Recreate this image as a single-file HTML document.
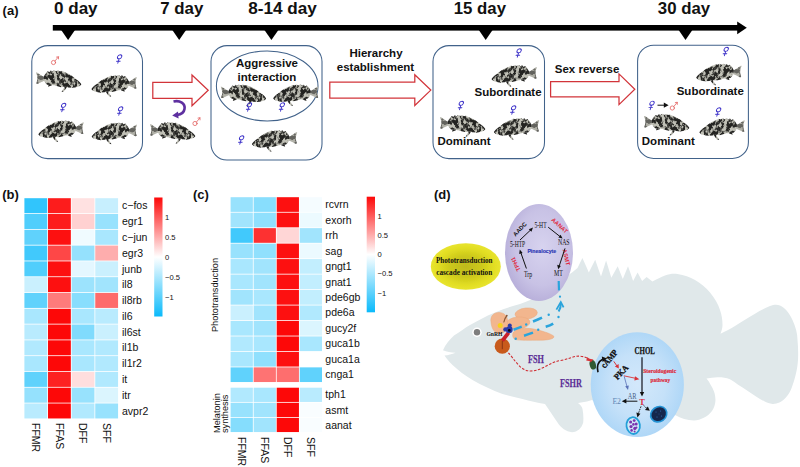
<!DOCTYPE html>
<html><head><meta charset="utf-8"><title>Figure</title>
<style>
html,body{margin:0;padding:0;background:#fff;}
body{width:800px;height:467px;overflow:hidden;font-family:"Liberation Sans",sans-serif;}
svg{display:block;}
text{font-family:"Liberation Sans",sans-serif;fill:#111;}
.b{font-weight:bold;}
.sf{font-family:"Liberation Serif",serif;}
</style></head><body>
<svg width="800" height="467" viewBox="0 0 800 467">
<defs>
<linearGradient id="lg" x1="0" y1="0" x2="0" y2="1">
  <stop offset="0" stop-color="#fd0808"/><stop offset="0.5" stop-color="#ffffff"/><stop offset="1" stop-color="#0abafb"/>
</linearGradient>
<radialGradient id="gy" cx="0.5" cy="0.5" r="0.5">
  <stop offset="0" stop-color="#bebA1a"/><stop offset="0.45" stop-color="#ccc81c"/><stop offset="0.8" stop-color="#e2de22"/><stop offset="1" stop-color="#e8e430"/>
</radialGradient>
<filter id="soft" x="-0.05" y="-0.05" width="1.1" height="1.1"><feGaussianBlur stdDeviation="0.7"/></filter>
<radialGradient id="gp" cx="0.55" cy="0.45" r="0.6">
  <stop offset="0" stop-color="#d7d3ef"/><stop offset="0.65" stop-color="#c8c2e5"/><stop offset="1" stop-color="#b5acd8"/>
</radialGradient>
<radialGradient id="gb" cx="0.5" cy="0.5" r="0.5">
  <stop offset="0" stop-color="#d3e8fb"/><stop offset="0.6" stop-color="#c5e1f9"/><stop offset="1" stop-color="#afd7f7"/>
</radialGradient>
<filter id="mott" x="-0.05" y="-0.05" width="1.1" height="1.1" color-interpolation-filters="sRGB">
  <feTurbulence type="fractalNoise" baseFrequency="0.27 0.22" numOctaves="3" seed="5" result="n"/>
  <feColorMatrix in="n" type="matrix" values="3.4 0 0 0 -1.26  3.4 0 0 0 -1.26  3.4 0 0 0 -1.26  0 0 0 0 1" result="g"/>
  <feComponentTransfer in="g" result="g2">
    <feFuncR type="table" tableValues="0.14 0.17 0.32 0.58 0.7 0.76"/>
    <feFuncG type="table" tableValues="0.14 0.17 0.32 0.58 0.7 0.76"/>
    <feFuncB type="table" tableValues="0.13 0.16 0.30 0.55 0.66 0.72"/>
  </feComponentTransfer>
  <feComposite in="g2" in2="SourceAlpha" operator="in" result="body"/>
  <feGaussianBlur in="body" stdDeviation="0.42"/>
</filter>
<g id="fish">
  <g filter="url(#mott)">
    <path d="M0,1.5 C0.6,1.3 1.2,1.5 1.8,2 C4,3.6 6,5.2 8.1,6.3 L8.4,10.1 C6,11 3.8,12.2 1.6,13.4 L0.3,13.1 C1.2,10.5 1.6,8.5 1.4,6.5 C1.2,4.8 0.7,3.1 0,1.5 Z"/>
    <path d="M7.7,6.2 C8.8,4.5 9.5,2.6 10.5,1.6 L12,0.2 L13.5,1 L15,-0.6 L16.8,0.4 L18.5,-0.9 L20.5,0.2 L22.5,-0.8 L24.5,0.3 L26.5,-0.3 L27.75,0.5 C31,1.6 33.5,2.9 36,4.6 C38.5,6.3 40.7,8 42.75,9.8 C44.2,11 45.4,12.2 46.1,13.5 L46.1,14.3 C45.2,15.3 44,16 42.75,16.5 C40.5,17.3 38.2,17.7 36,17.6 C34,17.5 32,17.1 30,16.5 L25.5,16.9 C23.2,16.4 21,15.7 18.75,15 C16.2,14.7 13.7,14.5 11.25,14.25 C10,13 9,11.6 8.05,10.1 Z"/>
    <path d="M29.4,16.2 L26,21.9 L28.3,21.5 L31.8,16.8 Z"/>
    <path d="M13,14 L12.2,16.6 L16.5,15 Z"/>
  </g>
  <path d="M0,1.5 C0.6,1.3 1.2,1.5 1.8,2 C4,3.6 6,5.2 8.1,6.3 L8.4,10.1 C6,11 3.8,12.2 1.6,13.4 L0.3,13.1 C1.2,10.5 1.6,8.5 1.4,6.5 C1.2,4.8 0.7,3.1 0,1.5 Z" fill="#a3a39b" opacity="0.5"/>
</g>
<g id="fem" transform="scale(1.1) skewX(-16)" fill="none" stroke="#3b30c8" stroke-width="0.85" stroke-linecap="round">
    <circle cx="0" cy="-2" r="1.9"/><path d="M0,-0.1 L0,3.9 M-1.7,2 L1.7,2"/>
</g>
<g id="mal" fill="none" stroke="#e25a58" stroke-width="0.75" stroke-linecap="round">
    <circle cx="-1.5" cy="2" r="2.1"/><path d="M0,0.5 L3.4,-3.6 M1.5,-3.4 L3.5,-3.8 L3.5,-1.6"/>
</g>
</defs>
<rect x="0" y="0" width="800" height="467" fill="#fff"/>
<g id="panel-a">
<text x="2.6" y="15" font-size="13" class="b">(a)</text>
<text x="54" y="14" font-size="16.2" class="b" textLength="43.6" lengthAdjust="spacingAndGlyphs">0 day</text>
<text x="160.2" y="14" font-size="16.2" class="b" textLength="43.1" lengthAdjust="spacingAndGlyphs">7 day</text>
<text x="248.2" y="14" font-size="16.2" class="b" textLength="68.6" lengthAdjust="spacingAndGlyphs">8-14 day</text>
<text x="453.7" y="14" font-size="16.2" class="b" textLength="52.3" lengthAdjust="spacingAndGlyphs">15 day</text>
<text x="657.8" y="14" font-size="16.2" class="b" textLength="52.3" lengthAdjust="spacingAndGlyphs">30 day</text>
<rect x="52.8" y="25" width="685.7" height="5.6" fill="#000"/>
<path d="M737.2,21.4 L746.8,27.8 L737.2,34.2 Z" fill="#000"/>
<g fill="#000">
<path d="M61.2,30 L75,30 L68.1,40 Z"/>
<path d="M172.3,30 L186.1,30 L179.2,40 Z"/>
<path d="M264.4,30 L278.4,30 L271.4,40 Z"/>
<path d="M478.8,30 L492.6,30 L485.7,40 Z"/>
<path d="M678.6,30 L692.4,30 L685.5,40 Z"/>
</g>
<g fill="none" stroke="#41628a" stroke-width="1.05">
<rect x="31.8" y="45.6" width="110.7" height="113" rx="16" ry="16"/>
<rect x="211" y="45.6" width="111" height="114.4" rx="16" ry="16"/>
<ellipse cx="267.2" cy="86" rx="50.8" ry="35"/>
<rect x="433" y="45.6" width="111.5" height="113" rx="16" ry="16"/>
<rect x="637.6" y="45.2" width="110.8" height="113.2" rx="16" ry="16"/>
</g>
<g fill="#fff" stroke="#d2343a" stroke-width="1.25" stroke-linejoin="miter">
<path d="M152.8,82.4 L192,82.4 L192,75 L208.2,90.3 L192,105.7 L192,98.4 L152.8,98.4 Z"/>
<path d="M329.8,82.2 L414.8,82.2 L414.8,74.8 L430.8,90.1 L414.8,105.5 L414.8,98.2 L329.8,98.2 Z"/>
<path d="M550.6,81.7 L619,81.7 L619,73.9 L634.8,89.2 L619,104.6 L619,96.8 L550.6,96.8 Z"/>
</g>
<!-- fish: -->
<use href="#fish" transform="translate(36.0,71.1) scale(0.98,0.95)"/>
<use href="#fish" transform="translate(136.8,75.9) scale(-0.98,0.95)"/>
<use href="#fish" transform="translate(83.7,121.2) scale(-0.98,0.95)"/>
<use href="#fish" transform="translate(137.0,123.4) scale(-0.98,0.95)"/>
<use href="#fish" transform="translate(150.0,122.9) scale(0.98,0.95)"/>
<use href="#fish" transform="translate(220.8,85.3) scale(0.98,0.95)"/>
<use href="#fish" transform="translate(318.5,85.2) scale(-0.98,0.95)"/>
<use href="#fish" transform="translate(297.2,130.9) scale(-0.98,0.95)"/>
<use href="#fish" transform="translate(536.9,65.9) scale(-0.98,0.95)"/>
<use href="#fish" transform="translate(440.0,115.9) scale(0.98,0.95)"/>
<use href="#fish" transform="translate(539.2,118.9) scale(-0.98,0.95)"/>
<use href="#fish" transform="translate(741.5,64.5) scale(-0.98,0.95)"/>
<use href="#fish" transform="translate(644.0,114.7) scale(0.98,0.95)"/>
<use href="#fish" transform="translate(744.7,119.1) scale(-0.98,0.95)"/>
<!-- gender symbols -->
<use href="#mal" transform="translate(55.0,60.5)"/>
<use href="#fem" transform="translate(119.0,59.0)"/>
<use href="#fem" transform="translate(63.0,107.5)"/>
<use href="#fem" transform="translate(120.0,111.0)"/>
<use href="#mal" transform="translate(196.5,121.5)"/>
<use href="#fem" transform="translate(248.8,107.0)"/>
<use href="#fem" transform="translate(281.7,107.0)"/>
<use href="#fem" transform="translate(241.0,140.0)"/>
<use href="#fem" transform="translate(518.5,53.0)"/>
<use href="#fem" transform="translate(460.7,105.5)"/>
<use href="#fem" transform="translate(513.0,110.0)"/>
<use href="#fem" transform="translate(725.6,51.5)"/>
<use href="#fem" transform="translate(651.4,105.4)"/>
<use href="#mal" transform="translate(673.8,106.0)"/>
<use href="#fem" transform="translate(718.0,112.0)"/>
<path d="M657.5,105.2 L664.5,105.2" stroke="#111" stroke-width="1" fill="none"/>
<path d="M663.8,102.6 L668.6,105.2 L663.8,107.8 Z" fill="#111"/>
<!-- purple curved arrow -->
<path d="M173.5,101.5 C180,100 185.5,103.5 184.5,109 C184,112.5 181,114.5 177,115" fill="none" stroke="#5e30a0" stroke-width="2.6" stroke-linecap="butt"/>
<path d="M172.2,115.6 L178,111.4 L178.6,118.6 Z" fill="#5e30a0"/>
<!-- labels -->
<g font-size="11.5" class="b">
<text x="267" y="67" text-anchor="middle">Aggressive</text>
<text x="267" y="80.5" text-anchor="middle">interaction</text>
<text x="376" y="57" text-anchor="middle">Hierarchy</text>
<text x="375.5" y="70.7" text-anchor="middle">establishment</text>
<text x="554.8" y="73">Sex reverse</text>
<text x="474.5" y="95.5">Subordinate</text>
<text x="437.5" y="145">Dominant</text>
<text x="676.7" y="94.5">Subordinate</text>
<text x="641.8" y="144.5">Dominant</text>
</g>
</g>
<g id="panel-b">
<text x="2.2" y="199.1" font-size="13" class="b">(b)</text>
<rect x="24.40" y="198.20" width="22.82" height="14.99" fill="#31c5fc"/>
<rect x="48.02" y="198.20" width="22.82" height="14.99" fill="#fd1c1c"/>
<rect x="71.64" y="198.20" width="22.82" height="14.99" fill="#ffe1e1"/>
<rect x="95.26" y="198.20" width="22.82" height="14.99" fill="#c7effe"/>
<text x="122.0" y="209.3" font-size="10.5">c−fos</text>
<rect x="24.40" y="213.99" width="22.82" height="14.99" fill="#50cefc"/>
<rect x="48.02" y="213.99" width="22.82" height="14.99" fill="#fd1c1c"/>
<rect x="71.64" y="213.99" width="22.82" height="14.99" fill="#ffd1d1"/>
<rect x="95.26" y="213.99" width="22.82" height="14.99" fill="#98e2fd"/>
<text x="122.0" y="225.1" font-size="10.5">egr1</text>
<rect x="24.40" y="229.78" width="22.82" height="14.99" fill="#60d2fc"/>
<rect x="48.02" y="229.78" width="22.82" height="14.99" fill="#fd1010"/>
<rect x="71.64" y="229.78" width="22.82" height="14.99" fill="#f0fbff"/>
<rect x="95.26" y="229.78" width="22.82" height="14.99" fill="#a9e7fe"/>
<text x="122.0" y="240.9" font-size="10.5">c−jun</text>
<rect x="24.40" y="245.57" width="22.82" height="14.99" fill="#41c9fc"/>
<rect x="48.02" y="245.57" width="22.82" height="14.99" fill="#fe4747"/>
<rect x="71.64" y="245.57" width="22.82" height="14.99" fill="#95e1fd"/>
<rect x="95.26" y="245.57" width="22.82" height="14.99" fill="#feadad"/>
<text x="122.0" y="256.7" font-size="10.5">egr3</text>
<rect x="24.40" y="261.36" width="22.82" height="14.99" fill="#50cefc"/>
<rect x="48.02" y="261.36" width="22.82" height="14.99" fill="#fd1010"/>
<rect x="71.64" y="261.36" width="22.82" height="14.99" fill="#e4f7ff"/>
<rect x="95.26" y="261.36" width="22.82" height="14.99" fill="#caf0fe"/>
<text x="122.0" y="272.5" font-size="10.5">junb</text>
<rect x="24.40" y="277.15" width="22.82" height="14.99" fill="#caf0fe"/>
<rect x="48.02" y="277.15" width="22.82" height="14.99" fill="#fd1010"/>
<rect x="71.64" y="277.15" width="22.82" height="14.99" fill="#9ce3fd"/>
<rect x="95.26" y="277.15" width="22.82" height="14.99" fill="#a1e4fd"/>
<text x="122.0" y="288.2" font-size="10.5">il8</text>
<rect x="24.40" y="292.94" width="22.82" height="14.99" fill="#60d2fc"/>
<rect x="48.02" y="292.94" width="22.82" height="14.99" fill="#fe7b7b"/>
<rect x="71.64" y="292.94" width="22.82" height="14.99" fill="#88defd"/>
<rect x="95.26" y="292.94" width="22.82" height="14.99" fill="#fe6b6b"/>
<text x="122.0" y="304.0" font-size="10.5">il8rb</text>
<rect x="24.40" y="308.73" width="22.82" height="14.99" fill="#a9e7fe"/>
<rect x="48.02" y="308.73" width="22.82" height="14.99" fill="#fd0808"/>
<rect x="71.64" y="308.73" width="22.82" height="14.99" fill="#a9e7fe"/>
<rect x="95.26" y="308.73" width="22.82" height="14.99" fill="#b9ebfe"/>
<text x="122.0" y="319.8" font-size="10.5">il6</text>
<rect x="24.40" y="324.52" width="22.82" height="14.99" fill="#b9ebfe"/>
<rect x="48.02" y="324.52" width="22.82" height="14.99" fill="#fd0808"/>
<rect x="71.64" y="324.52" width="22.82" height="14.99" fill="#80dbfd"/>
<rect x="95.26" y="324.52" width="22.82" height="14.99" fill="#caf0fe"/>
<text x="122.0" y="335.6" font-size="10.5">il6st</text>
<rect x="24.40" y="340.31" width="22.82" height="14.99" fill="#b1e9fe"/>
<rect x="48.02" y="340.31" width="22.82" height="14.99" fill="#fd0808"/>
<rect x="71.64" y="340.31" width="22.82" height="14.99" fill="#a9e7fe"/>
<rect x="95.26" y="340.31" width="22.82" height="14.99" fill="#b1e9fe"/>
<text x="122.0" y="351.4" font-size="10.5">il1b</text>
<rect x="24.40" y="356.10" width="22.82" height="14.99" fill="#a9e7fe"/>
<rect x="48.02" y="356.10" width="22.82" height="14.99" fill="#fd0808"/>
<rect x="71.64" y="356.10" width="22.82" height="14.99" fill="#a9e7fe"/>
<rect x="95.26" y="356.10" width="22.82" height="14.99" fill="#b1e9fe"/>
<text x="122.0" y="367.2" font-size="10.5">il1r2</text>
<rect x="24.40" y="371.89" width="22.82" height="14.99" fill="#60d2fc"/>
<rect x="48.02" y="371.89" width="22.82" height="14.99" fill="#fd2121"/>
<rect x="71.64" y="371.89" width="22.82" height="14.99" fill="#ffdede"/>
<rect x="95.26" y="371.89" width="22.82" height="14.99" fill="#b1e9fe"/>
<text x="122.0" y="383.0" font-size="10.5">it</text>
<rect x="24.40" y="387.68" width="22.82" height="14.99" fill="#95e1fd"/>
<rect x="48.02" y="387.68" width="22.82" height="14.99" fill="#fd0808"/>
<rect x="71.64" y="387.68" width="22.82" height="14.99" fill="#98e2fd"/>
<rect x="95.26" y="387.68" width="22.82" height="14.99" fill="#dbf5fe"/>
<text x="122.0" y="398.8" font-size="10.5">itr</text>
<rect x="24.40" y="403.47" width="22.82" height="14.99" fill="#b9ebfe"/>
<rect x="48.02" y="403.47" width="22.82" height="14.99" fill="#fd0808"/>
<rect x="71.64" y="403.47" width="22.82" height="14.99" fill="#b1e9fe"/>
<rect x="95.26" y="403.47" width="22.82" height="14.99" fill="#98e2fd"/>
<text x="122.0" y="414.6" font-size="10.5">avpr2</text>
<rect x="154.2" y="197.5" width="8.3" height="119" fill="url(#lg)"/>
<text x="165" y="220.2" font-size="7.6" fill="#222">1</text>
<text x="165" y="240.2" font-size="7.6" fill="#222">0.5</text>
<text x="165" y="260.2" font-size="7.6" fill="#222">0</text>
<text x="165" y="280.0" font-size="7.6" fill="#222">−0.5</text>
<text x="165" y="299.7" font-size="7.6" fill="#222">−1</text>
<text transform="translate(32.0,423) rotate(90)" font-size="10.5">FFMR</text>
<text transform="translate(55.6,423) rotate(90)" font-size="10.5">FFAS</text>
<text transform="translate(79.3,423) rotate(90)" font-size="10.5">DFF</text>
<text transform="translate(102.9,423) rotate(90)" font-size="10.5">SFF</text>
</g>
<g id="panel-c">
<text x="193" y="199.1" font-size="13" class="b">(c)</text>
<rect x="230.60" y="197.20" width="22.25" height="14.67" fill="#98e2fd"/>
<rect x="253.65" y="197.20" width="22.25" height="14.67" fill="#88defd"/>
<rect x="276.70" y="197.20" width="22.25" height="14.67" fill="#fd1010"/>
<rect x="299.75" y="197.20" width="22.25" height="14.67" fill="#f5fcff"/>
<text x="325.3" y="208.1" font-size="10.5">rcvrn</text>
<rect x="230.60" y="212.67" width="22.25" height="14.67" fill="#a1e4fd"/>
<rect x="253.65" y="212.67" width="22.25" height="14.67" fill="#90e0fd"/>
<rect x="276.70" y="212.67" width="22.25" height="14.67" fill="#fd1010"/>
<rect x="299.75" y="212.67" width="22.25" height="14.67" fill="#ecfaff"/>
<text x="325.3" y="223.6" font-size="10.5">exorh</text>
<rect x="230.60" y="228.14" width="22.25" height="14.67" fill="#41c9fc"/>
<rect x="253.65" y="228.14" width="22.25" height="14.67" fill="#fd3131"/>
<rect x="276.70" y="228.14" width="22.25" height="14.67" fill="#ffd6d6"/>
<rect x="299.75" y="228.14" width="22.25" height="14.67" fill="#a1e4fd"/>
<text x="325.3" y="239.1" font-size="10.5">rrh</text>
<rect x="230.60" y="243.61" width="22.25" height="14.67" fill="#98e2fd"/>
<rect x="253.65" y="243.61" width="22.25" height="14.67" fill="#90e0fd"/>
<rect x="276.70" y="243.61" width="22.25" height="14.67" fill="#fd1010"/>
<rect x="299.75" y="243.61" width="22.25" height="14.67" fill="#ecfaff"/>
<text x="325.3" y="254.5" font-size="10.5">sag</text>
<rect x="230.60" y="259.08" width="22.25" height="14.67" fill="#a9e7fe"/>
<rect x="253.65" y="259.08" width="22.25" height="14.67" fill="#a1e4fd"/>
<rect x="276.70" y="259.08" width="22.25" height="14.67" fill="#fd1010"/>
<rect x="299.75" y="259.08" width="22.25" height="14.67" fill="#c2eefe"/>
<text x="325.3" y="270.0" font-size="10.5">gngt1</text>
<rect x="230.60" y="274.55" width="22.25" height="14.67" fill="#a9e7fe"/>
<rect x="253.65" y="274.55" width="22.25" height="14.67" fill="#a1e4fd"/>
<rect x="276.70" y="274.55" width="22.25" height="14.67" fill="#fd1010"/>
<rect x="299.75" y="274.55" width="22.25" height="14.67" fill="#c2eefe"/>
<text x="325.3" y="285.5" font-size="10.5">gnat1</text>
<rect x="230.60" y="290.02" width="22.25" height="14.67" fill="#a1e4fd"/>
<rect x="253.65" y="290.02" width="22.25" height="14.67" fill="#a9e7fe"/>
<rect x="276.70" y="290.02" width="22.25" height="14.67" fill="#fd1010"/>
<rect x="299.75" y="290.02" width="22.25" height="14.67" fill="#c2eefe"/>
<text x="325.3" y="301.0" font-size="10.5">pde6gb</text>
<rect x="230.60" y="305.49" width="22.25" height="14.67" fill="#caf0fe"/>
<rect x="253.65" y="305.49" width="22.25" height="14.67" fill="#a1e4fd"/>
<rect x="276.70" y="305.49" width="22.25" height="14.67" fill="#fd1010"/>
<rect x="299.75" y="305.49" width="22.25" height="14.67" fill="#b1e9fe"/>
<text x="325.3" y="316.4" font-size="10.5">pde6a</text>
<rect x="230.60" y="320.96" width="22.25" height="14.67" fill="#a9e7fe"/>
<rect x="253.65" y="320.96" width="22.25" height="14.67" fill="#a1e4fd"/>
<rect x="276.70" y="320.96" width="22.25" height="14.67" fill="#fd0808"/>
<rect x="299.75" y="320.96" width="22.25" height="14.67" fill="#dbf5fe"/>
<text x="325.3" y="331.9" font-size="10.5">gucy2f</text>
<rect x="230.60" y="336.43" width="22.25" height="14.67" fill="#b1e9fe"/>
<rect x="253.65" y="336.43" width="22.25" height="14.67" fill="#a9e7fe"/>
<rect x="276.70" y="336.43" width="22.25" height="14.67" fill="#fd0808"/>
<rect x="299.75" y="336.43" width="22.25" height="14.67" fill="#a9e7fe"/>
<text x="325.3" y="347.4" font-size="10.5">guca1b</text>
<rect x="230.60" y="351.90" width="22.25" height="14.67" fill="#a9e7fe"/>
<rect x="253.65" y="351.90" width="22.25" height="14.67" fill="#90e0fd"/>
<rect x="276.70" y="351.90" width="22.25" height="14.67" fill="#fd1010"/>
<rect x="299.75" y="351.90" width="22.25" height="14.67" fill="#ffffff"/>
<text x="325.3" y="362.8" font-size="10.5">guca1a</text>
<rect x="230.60" y="367.37" width="22.25" height="14.67" fill="#60d2fc"/>
<rect x="253.65" y="367.37" width="22.25" height="14.67" fill="#fe7373"/>
<rect x="276.70" y="367.37" width="22.25" height="14.67" fill="#fe6e6e"/>
<rect x="299.75" y="367.37" width="22.25" height="14.67" fill="#60d2fc"/>
<text x="325.3" y="378.3" font-size="10.5">cnga1</text>
<rect x="230.60" y="387.70" width="22.25" height="14.25" fill="#b1e9fe"/>
<rect x="253.65" y="387.70" width="22.25" height="14.25" fill="#a9e7fe"/>
<rect x="276.70" y="387.70" width="22.25" height="14.25" fill="#fd0808"/>
<rect x="299.75" y="387.70" width="22.25" height="14.25" fill="#b9ebfe"/>
<text x="325.3" y="398.4" font-size="10.5">tph1</text>
<rect x="230.60" y="402.75" width="22.25" height="14.25" fill="#98e2fd"/>
<rect x="253.65" y="402.75" width="22.25" height="14.25" fill="#a1e4fd"/>
<rect x="276.70" y="402.75" width="22.25" height="14.25" fill="#fd0808"/>
<rect x="299.75" y="402.75" width="22.25" height="14.25" fill="#f9fdff"/>
<text x="325.3" y="413.5" font-size="10.5">asmt</text>
<rect x="230.60" y="417.80" width="22.25" height="14.25" fill="#85ddfd"/>
<rect x="253.65" y="417.80" width="22.25" height="14.25" fill="#a1e4fd"/>
<rect x="276.70" y="417.80" width="22.25" height="14.25" fill="#fd0808"/>
<rect x="299.75" y="417.80" width="22.25" height="14.25" fill="#f9fdff"/>
<text x="325.3" y="428.5" font-size="10.5">aanat</text>
<rect x="366.7" y="196.7" width="8.3" height="115.6" fill="url(#lg)"/>
<text x="377.5" y="218.7" font-size="7.6" fill="#222">1</text>
<text x="377.5" y="237.7" font-size="7.6" fill="#222">0.5</text>
<text x="377.5" y="257.2" font-size="7.6" fill="#222">0</text>
<text x="377.5" y="276.4" font-size="7.6" fill="#222">−0.5</text>
<text x="377.5" y="295.7" font-size="7.6" fill="#222">−1</text>
<text transform="translate(237.9,437) rotate(90)" font-size="10.5">FFMR</text>
<text transform="translate(261.0,437) rotate(90)" font-size="10.5">FFAS</text>
<text transform="translate(284.0,437) rotate(90)" font-size="10.5">DFF</text>
<text transform="translate(307.1,437) rotate(90)" font-size="10.5">SFF</text>
<text transform="translate(217.9,295) rotate(-90)" font-size="9.2" text-anchor="middle">Phototransduction</text>
<text transform="translate(220.2,433) rotate(-90)" font-size="9.2">Melatonin</text>
<text transform="translate(227.8,433) rotate(-90)" font-size="9.2">synthesis</text>
</g>
<g id="panel-d">
<text x="434" y="198.7" font-size="13" class="b">(d)</text>
<!-- fish silhouette -->
<path fill="#e0e8ea" d="M443,350.2 C445.4,344.6 449.6,339.6 454,335.6 C460,331.5 465,328 470,325 C478,320.5 486,316 495,312.5 C503,309 511,306.5 520,304 C532,300 548,291 560,281 L572.7,272 L577.5,268 L582.4,257.9 L586,266 L588.8,272.6 L595.2,259.8 L598.4,269 L601,276.5 L606.1,260.4 L609,270 L611.3,277.8 L617.7,266.2 L620.4,273 L622.8,279 L628,266.2 L630.8,274 L633.1,281 L637.6,272.6 L642.1,281 L646.6,277.1 L652.4,281.6 C657,279.5 661,277 665,275.6 C669,274 673,273.6 677.5,274 C684,275 690,277 695,280 C701,283.5 706,287.5 710,292.5 C715,298.5 718,304 720,310 C721.8,315 722.5,320 722.5,325 C722.5,328 721.5,331 720.5,333.7 C725,331.5 730,329 735,326 C742,321.5 748,317.5 755,313.7 C760,310.5 765,308 770,306 C774,304.5 777,304.3 780,305.5 C785,308 789.5,313 792.5,320 C795.5,327 797.5,333 797.5,340 C798.2,347 798.3,354 798,360 C797.6,365 797,369.5 795.9,373.8 C794.8,378.6 793.5,383 791.8,387.5 C790.4,391.2 788.6,394.4 786.3,397.1 C784.2,399.6 782,401.4 779.4,402.6 C777.2,403.6 775,404.1 772.5,404 C769.6,403.6 767,402.6 764.3,401.3 C761.4,399.9 758.8,398.2 756,396.5 C753.2,394.7 750.6,392.8 747.8,391 C744.5,388.9 741.4,386.8 738.1,384.8 C735.4,382.8 732.8,380.6 729.9,379.3 C726,377.6 721.6,377.1 717.5,377.2 C713.8,377.3 710,377.8 706.5,378.6 C708.2,380.5 709.6,382.6 710.6,384.8 C711.9,387 713.2,389.2 714,391.6 C715.1,394.7 715.6,398 715.4,401.3 C715.2,404.8 714,408.1 712,410.9 C709.8,413.9 707,416.2 703.8,417.8 C700.7,419.4 697.4,420.3 694,420.5 C687,420.4 681,418.5 675,415 L640,425 L592,400 L587,401.5 L578,403 C580.6,405 582.2,407 582.5,409 C583.4,413.6 583.6,418 583.2,422.5 C581.6,428.4 577.6,432 572,432.2 C566,431.6 561,428 557.5,422.5 C553.5,416.5 549,410 545,404 C537,402.8 530,401 522.5,399 C515.5,397.5 509,396 502.5,394 C492,390 482,385.5 472.5,380 C465,375.5 458.5,370.5 452.5,365 C449,361.6 446.4,358.6 444.5,355.6 C448,355.2 452,354.2 455.5,352.8 C451,352.4 446.6,351.6 443,350.2 Z"/>
<!-- yellow ellipse -->
<ellipse cx="465.8" cy="266.5" rx="35" ry="23.3" fill="url(#gy)" filter="url(#soft)"/>
<g class="sf b" font-size="8.6" text-anchor="middle" fill="#111">
<text x="464.2" y="263.2" textLength="56.5" lengthAdjust="spacingAndGlyphs" class="sf b">Phototransduction</text>
<text x="464.2" y="274.6" textLength="56" lengthAdjust="spacingAndGlyphs" class="sf b">cascade activation</text>
</g>
<!-- pinealocyte ellipse -->
<ellipse cx="539" cy="252.5" rx="34" ry="48.5" fill="url(#gp)"/>
<g class="sf" font-size="7.2" fill="#1a1a1a">
<text x="534.4" y="228.4" textLength="12.2" lengthAdjust="spacingAndGlyphs" class="sf">5-HT</text>
<text x="558" y="245.4" textLength="11.6" lengthAdjust="spacingAndGlyphs" class="sf">NAS</text>
<text x="510" y="247.4" textLength="15.2" lengthAdjust="spacingAndGlyphs" class="sf">5-HTP</text>
<text x="524" y="277" textLength="8.2" lengthAdjust="spacingAndGlyphs" class="sf">Trp</text>
<text x="554" y="276.4" textLength="8.8" lengthAdjust="spacingAndGlyphs" class="sf">MT</text>
</g>
<text x="541.8" y="253.4" font-size="5.2" class="b" text-anchor="middle" style="fill:#2a36b4;stroke:#2a36b4;stroke-width:0.15">Pinealocyte</text>
<text transform="translate(521.3,230.5) rotate(-47)" font-size="5.8" class="b" text-anchor="middle">AADC</text>
<text transform="translate(558.3,227) rotate(43)" font-size="5.8" class="b" text-anchor="middle" style="fill:#e0283c">AANAT</text>
<text transform="translate(564.4,257.6) rotate(77)" font-size="5.8" class="b" text-anchor="middle" style="fill:#e0283c">ASMT</text>
<text transform="translate(517.6,263.2) rotate(-115)" font-size="5.8" class="b" text-anchor="middle" style="fill:#e0283c">TPH1</text>
<g stroke="#111" stroke-width="1" fill="none">
<path d="M526.4,268.5 L520.6,252"/><path d="M520,240 L531,229.6"/><path d="M548.2,227.2 L560.6,237"/><path d="M565,248.4 L559,266.6"/>
</g>
<g fill="#111">
<path d="M519.8,249.4 L522.6,253 L519.2,254 Z"/>
<path d="M533,227.6 L531.4,231.8 L528.8,229.2 Z"/>
<path d="M562.6,238.6 L558.4,237.6 L560.6,234.8 Z"/>
<path d="M558.2,269.2 L557.2,264.8 L560.8,266 Z"/>
</g>
<!-- brain -->
<g fill="#f2b68e" stroke="#e9a87c" stroke-width="0.5">
<path d="M513.5,332 C518,327.4 528,327.6 536,329.5 C544,331.5 552,334 554,336.5 C554,339 548,340.2 540,340.2 C530,340.2 520,340.6 515,339.5 C512.5,338 512,334.5 513.5,332 Z"/>
<ellipse cx="526.2" cy="313.6" rx="11.2" ry="5.6" transform="rotate(-6 526.2 313.6)"/>
<ellipse cx="518" cy="323" rx="12" ry="6" transform="rotate(-5 518 323)"/>
<path d="M491,322 C490,316 494,312.3 499,312.5 C504,312.5 507.6,316 507.6,321 C507.6,327 506,333.5 500,333.5 C494,333.5 491.5,328 491,322 Z"/>
</g>
<path d="M503.9,322 C504.4,319.4 505.4,317.4 506.6,316" fill="none" stroke="#8a5a3a" stroke-width="1.2" stroke-linecap="round"/>
<circle cx="506.8" cy="315.6" r="0.9" fill="#8a5a3a"/>
<!-- blue dashed-dot path -->
<g fill="none" stroke="#2aa4dc" stroke-width="2.5" stroke-linecap="butt">
<path d="M558.7,281 L559,290.4" stroke-width="2.2"/>
<path d="M556.4,309.6 L560.8,302 L563.6,307.4" stroke-width="1.8"/>
<path d="M560.8,303 C561,306 560.2,308.8 558.6,311.4" stroke-width="2"/>
<path d="M553.2,323.6 C551,325 548.4,326 545.7,326.8"/>
<path d="M533,332.7 C530,333.8 527,334.8 524,335.7"/>
<path d="M542,317.7 C539,319.2 536,320.4 533,321.5"/>
<path d="M521.7,326.7 C519,327.8 516.2,328.8 513.5,329.7"/>
</g>
<g fill="#2aa4dc">
<circle cx="560" cy="296.7" r="1.1"/><circle cx="558.5" cy="317" r="1.2"/><circle cx="538.2" cy="329.7" r="1.2"/><circle cx="515.7" cy="338.7" r="1.2"/><circle cx="548.7" cy="314.7" r="1.2"/><circle cx="526.2" cy="324.5" r="1.2"/>
</g>
<!-- eye -->
<circle cx="477" cy="332.2" r="4.7" fill="#fff"/>
<circle cx="477" cy="332.2" r="3.2" fill="#7d7d7d"/>
<!-- pituitary etc. -->
<circle cx="502.3" cy="346.2" r="7.6" fill="#c85a1c"/>
<path d="M502.3,340.6 L502.3,349.2" stroke="#5a1a10" stroke-width="0.6"/>
<path d="M508.6,332.6 L502.4,340.6" stroke="#c8202a" stroke-width="3.8" stroke-linecap="butt"/>
<circle cx="500.2" cy="325.4" r="2.5" fill="#f6d21c"/>
<circle cx="509.3" cy="329.7" r="3.4" fill="#2a3aa8"/>
<circle cx="505.4" cy="329.4" r="2.2" fill="#2a3aa8"/>
<circle cx="509.8" cy="325.4" r="2" fill="#2a3aa8"/>
<circle cx="509.3" cy="330.4" r="1.4" fill="#0a0a0a"/>
<text x="486.4" y="335.8" font-size="7" class="sf b" textLength="16" lengthAdjust="spacingAndGlyphs">GnRH</text>
<!-- FSH -->
<text x="528" y="363" font-size="11.6" class="sf b" textLength="16" lengthAdjust="spacingAndGlyphs" style="fill:#5b2d96;stroke:#5b2d96;stroke-width:0.25">FSH</text>
<text x="560" y="387.4" font-size="12.6" class="sf b" textLength="22" lengthAdjust="spacingAndGlyphs" style="fill:#5b2d96;stroke:#5b2d96;stroke-width:0.25">FSHR</text>
<path d="M508.4,353 C514,358 520,371.6 531,371 C543,370.4 550,362 560,360.6 C568,359.4 574,355.6 580,356.2 C584,356.4 587,357.6 589.4,359.6" fill="none" stroke="#cf2a30" stroke-width="1.05" stroke-dasharray="2.6 1.5"/>
<path d="M587.4,357 L591.4,361.6 L586.2,360.6 Z" fill="#d8343a"/>
<!-- gonad ellipse -->
<ellipse cx="637.3" cy="384.6" rx="46.6" ry="52.3" fill="url(#gb)" filter="url(#soft)"/>
<!-- receptor -->
<ellipse cx="592.8" cy="364.8" rx="3.1" ry="4.8" fill="#2f5a34" transform="rotate(-16 592.8 364.8)"/>
<path d="M588.4,358.6 L593.4,359.4 L590.6,362.6 Z" fill="#d8343a"/>
<path d="M598,372.2 C596.6,366.6 598,361.6 603,359" fill="none" stroke="#111" stroke-width="1.6"/>
<path d="M601.8,356.4 L607.2,358.4 L602.6,362 Z" fill="#111"/>
<!-- pathway text -->
<text transform="translate(611.6,360.6) rotate(-50)" font-size="8.6" class="sf b" text-anchor="middle" textLength="21" lengthAdjust="spacingAndGlyphs" style="stroke:#111;stroke-width:0.3">cAMP</text>
<text transform="translate(623.2,374.2) rotate(-46)" font-size="8.6" class="sf b" text-anchor="middle" textLength="16.5" lengthAdjust="spacingAndGlyphs" style="stroke:#111;stroke-width:0.3">PKA</text>
<text x="634.5" y="353.8" font-size="10" class="sf b" textLength="20.5" lengthAdjust="spacingAndGlyphs" style="stroke:#111;stroke-width:0.25">CHOL</text>
<path d="M642,357.3 L642,393" stroke="#0a0a14" stroke-width="1.15"/>
<path d="M639.8,392 L644.2,392 L642,396.6 Z" fill="#111"/>
<text x="643.2" y="373.4" font-size="7" class="sf b" textLength="33" lengthAdjust="spacingAndGlyphs" style="fill:#dc2c3c;stroke:#dc2c3c;stroke-width:0.22">Steroidogenic</text>
<text x="650.6" y="382.4" font-size="7" class="sf b" textLength="19.6" lengthAdjust="spacingAndGlyphs" style="fill:#dc2c3c;stroke:#dc2c3c;stroke-width:0.22">pathway</text>
<path d="M613.8,361.4 L617,366" stroke="#d8343a" stroke-width="1"/>
<path d="M614.8,366.6 L618.8,368.6 L618.6,364 Z" fill="#d8343a"/>
<path d="M623.8,375.8 L636,378.4" stroke="#d8343a" stroke-width="0.9"/>
<path d="M635,376.2 L639.4,379.2 L634.4,380.6 Z" fill="#d8343a"/>
<path d="M624.2,376.4 L627,386.6" stroke="#5a72b8" stroke-width="0.8"/>
<path d="M625.2,386.2 L628,390 L628.8,385.4 Z" fill="#5a72b8"/>
<text x="627.8" y="398.8" font-size="8.8" class="sf" textLength="8.8" lengthAdjust="spacingAndGlyphs" style="fill:#4a5f86">AR</text>
<text x="612.4" y="404" font-size="8.8" class="sf" textLength="8.6" lengthAdjust="spacingAndGlyphs" style="fill:#5f86b4">E2</text>
<text x="639.2" y="405" font-size="8.4" class="sf b" style="fill:#dc2c3c">T</text>
<path d="M637.4,401.2 L625.4,401.2" stroke="#111" stroke-width="1"/>
<path d="M626.4,398.8 L621.8,401.2 L626.4,403.6 Z" fill="#111"/>
<path d="M641,406.4 L638.2,414" stroke="#111" stroke-width="0.9" stroke-dasharray="1.6 1"/>
<path d="M636.4,412.6 L637.4,417.4 L640.4,413.8 Z" fill="#111"/>
<path d="M643.4,405 L647,408.6" stroke="#111" stroke-width="0.9" stroke-dasharray="1.6 1"/>
<path d="M645,410 L649.8,410.8 L647.8,406.6 Z" fill="#111"/>
<!-- cells -->
<ellipse cx="633.2" cy="425.6" rx="7.6" ry="9.3" fill="#239fd8" transform="rotate(-8 633.2 425.6)"/>
<ellipse cx="633.2" cy="425.6" rx="5.8" ry="7.5" fill="#cfe9f8" transform="rotate(-8 633.2 425.6)"/>
<g fill="#7a34b0">
<circle cx="630.6" cy="422" r="1.5"/><circle cx="634.2" cy="420.6" r="1.4"/><circle cx="636.2" cy="424" r="1.5"/><circle cx="631" cy="426.6" r="1.6"/><circle cx="634.8" cy="428.4" r="1.6"/><circle cx="633.4" cy="424.4" r="1.3"/><circle cx="636.4" cy="427.6" r="1.1"/><circle cx="631.6" cy="430.4" r="1.3"/><circle cx="634.6" cy="431.6" r="1"/>
</g>
<ellipse cx="658.7" cy="414.2" rx="9.2" ry="8.2" fill="#2492d4" transform="rotate(-35 658.7 414.2)"/>
<ellipse cx="658.7" cy="414.2" rx="7.6" ry="6.5" fill="#15264c" transform="rotate(-35 658.7 414.2)"/>
<g fill="#3a78c0"><circle cx="656" cy="412" r="0.5"/><circle cx="660.6" cy="411" r="0.5"/><circle cx="661.4" cy="416" r="0.5"/><circle cx="657" cy="417" r="0.5"/><circle cx="659" cy="414" r="0.4"/></g>
</g>
</svg>
</body></html>
